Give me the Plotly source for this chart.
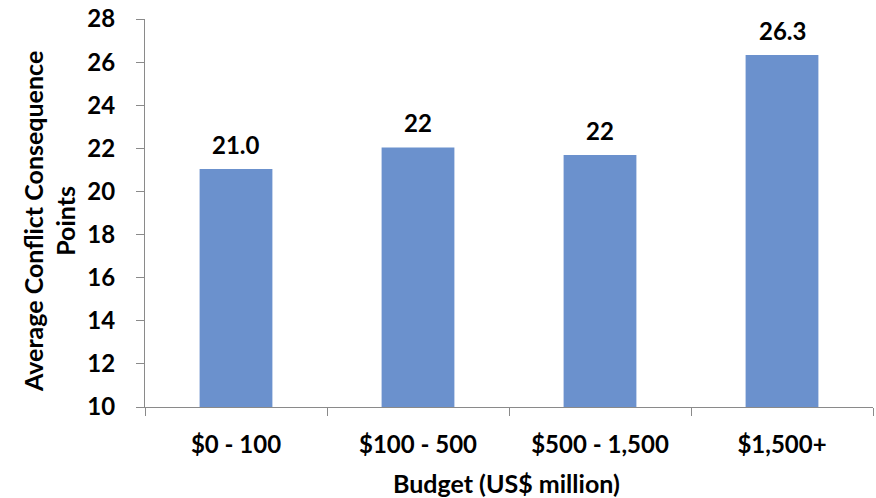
import plotly.graph_objects as go

categories = ["$0 - 100", "$100 - 500", "$500 - 1,500", "$1,500+"]
values = [21.04, 22.04, 21.69, 26.33]
labels = ["21.0", "22", "22", "26.3"]
y_ticks = [10, 12, 14, 16, 18, 20, 22, 24, 26, 28]

FONT = "Lato, 'Open Sans', sans-serif"
AXIS_COLOR = "#8a8a8a"
BAR_COLOR = "#6b91cd"

fig = go.Figure(go.Bar(
    x=categories, y=values,
    marker=dict(color=BAR_COLOR, line=dict(width=0)),
    width=0.4, hoverinfo="x+y",
))

annotations = []
for c, v, t in zip(categories, values, labels):
    annotations.append(dict(
        x=c, y=v, xref="x", yref="y", text=t, showarrow=False,
        yanchor="bottom", yshift=8,
        font=dict(family=FONT, size=24, color="black", weight="bold"),
    ))
annotations.append(dict(
    x=-0.132, y=0.479, xref="paper", yref="paper",
    text="Average Conflict Consequence<br>Points", showarrow=False,
    textangle=-90, xanchor="center", yanchor="middle",
    font=dict(family=FONT, size=25, color="black", weight="bold"),
))
annotations.append(dict(
    x=0.497, y=-0.196, xref="paper", yref="paper",
    text="Budget (US$ million)", showarrow=False,
    xanchor="center", yanchor="middle",
    font=dict(family=FONT, size=25, color="black", weight="bold"),
))

fig.update_layout(
    width=876, height=498,
    margin=dict(l=145, r=3, t=19, b=91),
    plot_bgcolor="white", paper_bgcolor="white",
    showlegend=False,
    font=dict(family=FONT, size=24, color="black", weight="bold"),
    annotations=annotations,
)
fig.update_yaxes(
    range=[10, 28], tickvals=y_ticks, ticktext=[str(v) for v in y_ticks],
    showgrid=False, zeroline=False, automargin=False,
    showline=True, linecolor=AXIS_COLOR, linewidth=1,
    ticks="outside", ticklen=8, tickcolor=AXIS_COLOR,
    ticklabelstandoff=16,
    tickfont=dict(family=FONT, size=24, color="black", weight="bold"),
)
fig.update_xaxes(
    showgrid=False, showline=True, linecolor=AXIS_COLOR, linewidth=1,
    automargin=False,
    ticks="outside", ticklen=8, tickcolor=AXIS_COLOR, tickson="boundaries",
    ticklabelstandoff=16,
    tickfont=dict(family=FONT, size=24, color="black", weight="bold"),
)

fig.write_html(
    "out.html",
    config={"displayModeBar": False},
    post_script="document.body.style.margin='0px';document.body.style.overflow='hidden';",
)
